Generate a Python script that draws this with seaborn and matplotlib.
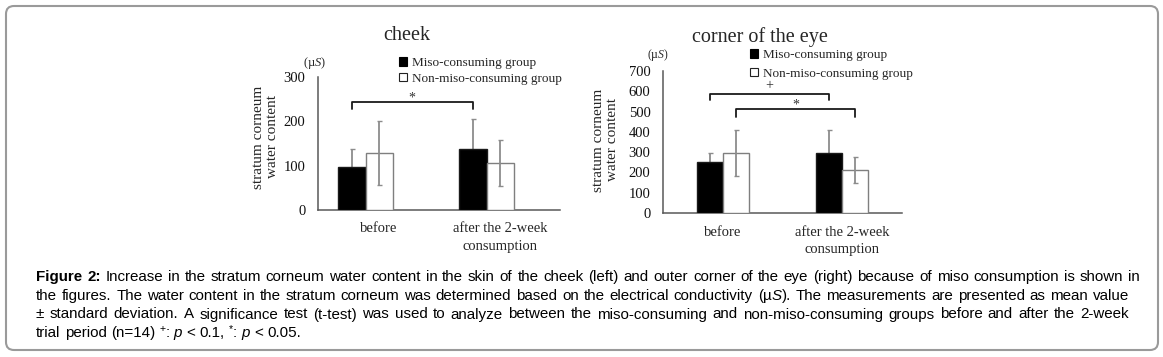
import numpy as np
import pandas as pd
import matplotlib
matplotlib.use("Agg")
import matplotlib.pyplot as plt
import seaborn as sns
from matplotlib.patches import Patch, FancyBboxPatch
from matplotlib.transforms import IdentityTransform

# ---------------- data ----------------
categories = ["before", "after the 2-week\nconsumption"]
groups = ["Miso-consuming group", "Non-miso-consuming group"]

cheek_miso = [98, 137]
cheek_miso_sd = [39, 68]
cheek_non = [128, 106]
cheek_non_sd = [72, 51]

eye_miso = [250, 294]
eye_miso_sd = [47, 116]
eye_non = [296, 212]
eye_non_sd = [115, 62]

cheek_yticks = [0, 100, 200, 300]
eye_yticks = [0, 100, 200, 300, 400, 500, 600, 700]

# ---------------- style ----------------
sns.set_theme(style="white")
plt.rcParams["font.family"] = ["Liberation Serif", "DejaVu Serif"]
plt.rcParams["mathtext.fontset"] = "custom"
plt.rcParams["mathtext.rm"] = "Liberation Serif"
plt.rcParams["mathtext.it"] = "Liberation Serif:italic"

W, H = 1163, 357
fig = plt.figure(figsize=(W / 100, H / 100), dpi=100)
fig.patch.set_facecolor("white")

AX_COL = "#595959"
ERR_COL = "#8c8c8c"


def px(x, y):
    return x / W, 1 - y / H


def make_df(miso, non):
    rows = []
    for i, c in enumerate(categories):
        rows.append({"time": c, "group": groups[0], "value": miso[i]})
        rows.append({"time": c, "group": groups[1], "value": non[i]})
    return pd.DataFrame(rows)


def draw_panel(ax, miso, miso_sd, non, non_sd, ylim, yticks, minor_step,
               xlim, label_pos, bound_ticks, width):
    df = make_df(miso, non)
    sns.barplot(data=df, x="time", y="value", hue="group", order=categories,
                hue_order=groups, palette={groups[0]: "black", groups[1]: "white"},
                width=width, gap=0, errorbar=None, legend=False, ax=ax,
                zorder=3, linewidth=1.0)
    sds = {0: miso_sd, 1: non_sd}
    centers = {}
    for p in ax.patches:
        if p.get_width() <= 0:
            continue
        fc = p.get_facecolor()
        g = 0 if fc[0] < 0.5 else 1
        xc = p.get_x() + p.get_width() / 2
        ci = int(round(xc))
        h = p.get_height()
        centers[(g, ci)] = (xc, h)
        if g == 0:
            p.set_edgecolor("#1a1a1a")
        else:
            p.set_edgecolor("#7f7f7f")
        ax.errorbar([xc], [h], yerr=[sds[g][ci]], fmt="none", ecolor=ERR_COL,
                    elinewidth=1.3, capsize=1.8, capthick=1.0,
                    zorder=2 if g == 0 else 4)
    ax.set_xlim(*xlim)
    ax.set_ylim(*ylim)
    ax.set_xlabel("")
    ax.set_ylabel("")
    ax.set_xticks(bound_ticks)
    ax.set_xticklabels([""] * len(bound_ticks))
    ax.set_xticks(label_pos, minor=True)
    ax.set_xticklabels(categories, minor=True, fontsize=10.5, linespacing=1.45)
    ax.tick_params(axis="x", which="major", direction="out", length=4,
                   color=AX_COL, width=1)
    ax.tick_params(axis="x", which="minor", length=0, pad=9)
    ax.set_yticks(yticks)
    ax.set_yticklabels([str(v) for v in yticks], fontsize=10.5)
    if minor_step:
        ax.set_yticks(np.arange(ylim[0], ylim[1] + 1, minor_step), minor=True)
    ax.tick_params(axis="y", which="both", direction="out", length=4,
                   color=AX_COL, width=1, pad=5)
    ax.tick_params(axis="y", which="major", labelcolor="#111111")
    sns.despine(ax=ax)
    for s in ["left", "bottom"]:
        ax.spines[s].set_color(AX_COL)
        ax.spines[s].set_linewidth(1.1)
    ax.set_facecolor("none")
    return centers


def bracket(ax, x1, x2, y, y0, text, ty, fs=10):
    ax.plot([x1, x1, x2, x2], [y0, y, y, y0], color="#1a1a1a", lw=1.3,
            zorder=5, clip_on=False)
    ax.text((x1 + x2) / 2, ty, text, ha="center", va="bottom", fontsize=fs,
            color="#333333")


# ---------------- cheek panel ----------------
ax1 = fig.add_axes([318 / W, 1 - 210 / H, 242 / W, 133 / H])
c1 = draw_panel(ax1, cheek_miso, cheek_miso_sd, cheek_non, cheek_non_sd,
                (0, 300), cheek_yticks, 20, (-0.393, 1.607), [0.11, 1.11],
                [-0.393, 0.615, 1.607], 0.455)
bracket(ax1, c1[(0, 0)][0], c1[(0, 1)][0], 243, 228, "*", 237)

# ---------------- eye panel ----------------
ax2 = fig.add_axes([663 / W, 1 - 213 / H, 239 / W, 142 / H])
c2 = draw_panel(ax2, eye_miso, eye_miso_sd, eye_non, eye_non_sd,
                (0, 700), eye_yticks, None, (-0.5, 1.5), [0, 1],
                [-0.5, 0.5, 1.5], 0.435)
bracket(ax2, c2[(0, 0)][0], c2[(0, 1)][0], 587, 557, "+", 595)
bracket(ax2, c2[(1, 0)][0], c2[(1, 1)][0], 512, 473, "*", 500)

# ---------------- titles, labels, legends ----------------
fig.text(*px(407, 35), "cheek", ha="center", va="center", fontsize=14.5)
fig.text(*px(760, 37), "corner of the eye", ha="center", va="center", fontsize=14.5)

ylab = "stratum corneum\nwater content"
fig.text(*px(266, 137), ylab, rotation=90, ha="center", va="center",
         fontsize=11, linespacing=1.1)
fig.text(*px(606, 140), ylab, rotation=90, ha="center", va="center",
         fontsize=11, linespacing=1.1)

fig.text(*px(315, 63), r"(µ$\it{S}$)", ha="center", va="center", fontsize=9)
fig.text(*px(658, 55), r"(µ$\it{S}$)", ha="center", va="center", fontsize=8.5)

handles = [Patch(facecolor="black", edgecolor="black", lw=0.8),
           Patch(facecolor="white", edgecolor="#222222", lw=0.8)]
fig.legend(handles=handles, labels=groups, loc="upper left",
           bbox_to_anchor=px(399, 57), frameon=False, fontsize=9.5,
           handlelength=0.6, handleheight=0.6, handletextpad=0.35,
           labelspacing=0.3, borderpad=0, borderaxespad=0)
fig.legend(handles=handles, labels=groups, loc="upper left",
           bbox_to_anchor=px(750, 49), frameon=False, fontsize=9.5,
           handlelength=0.6, handleheight=0.6, handletextpad=0.35,
           labelspacing=0.5, borderpad=0, borderaxespad=0)

# ---------------- caption (justified) ----------------
renderer = fig.canvas.get_renderer()
SANS = ["Liberation Sans", "DejaVu Sans"]
CAP = {"fs": 10.0}


def style_kw(st):
    fs = CAP["fs"]
    kw = dict(family=SANS, fontsize=fs, color="black")
    dy = 0
    if st == "b":
        kw["fontweight"] = "bold"
    elif st == "i":
        kw["fontstyle"] = "italic"
    elif st == "sup":
        kw["fontsize"] = fs * 0.7
        dy = 5
    return kw, dy


def measure(s, st):
    kw, _ = style_kw(st)
    t = fig.text(0, 0, s, **kw)
    w = t.get_window_extent(renderer).width
    t.remove()
    return w


def to_words(segs):
    words, cur = [], []
    for text, st in segs:
        parts = text.split(" ")
        for k, part in enumerate(parts):
            if k > 0:
                if cur:
                    words.append(cur)
                cur = []
            if part:
                cur.append((part, st))
    if cur:
        words.append(cur)
    return words


def natural_width(segs):
    words = to_words(segs)
    space = measure("a a", "n") - measure("aa", "n")
    return sum(sum(measure(s, st) for s, st in w) for w in words) + space * (len(words) - 1)


def draw_line(segs, y, x0, x1, justify=True):
    words = to_words(segs)
    widths = [sum(measure(s, st) for s, st in w) for w in words]
    space = measure("a a", "n") - measure("aa", "n")
    if justify and len(words) > 1:
        gap = (x1 - x0 - sum(widths)) / (len(words) - 1)
    else:
        gap = space
    x = x0
    for w, ww in zip(words, widths):
        xx = x
        for s, st in w:
            kw, dy = style_kw(st)
            fig.text(xx / W, 1 - (y - dy) / H, s, ha="left", va="baseline", **kw)
            xx += measure(s, st)
        x += ww + gap


cap_lines = [
    [("Figure 2:", "b"), (" Increase in the stratum corneum water content in the skin of the cheek (left) and outer corner of the eye (right) because of miso consumption is shown in", "n")],
    [("the figures. The water content in the stratum corneum was determined based on the electrical conductivity (µ", "n"), ("S", "i"), ("). The measurements are presented as mean value", "n")],
    [("± standard deviation. A significance test (t-test) was used to analyze between the miso-consuming and non-miso-consuming groups before and after the 2-week", "n")],
    [("trial period (n=14) ", "n"), ("+", "sup"), (": ", "n"), ("p", "i"), (" < 0.1, ", "n"), ("*", "sup"), (": ", "n"), ("p", "i"), (" < 0.05.", "n")],
]
rights = [1140, 1129, 1129]
scale = min((rights[i] - 36) / natural_width(cap_lines[i]) for i in range(3))
CAP["fs"] = 10.0 * scale * 0.99

baselines = [281, 300, 318.5, 337]
for i, (segs, yb) in enumerate(zip(cap_lines, baselines)):
    draw_line(segs, yb, 36, 1129 if i > 0 else 1140, justify=(i < 3))

# ---------------- frame ----------------
frame = FancyBboxPatch((6, H - 350), 1152, 344,
                       boxstyle="round,pad=0,rounding_size=8",
                       transform=IdentityTransform(), fill=False,
                       ec="#9a9a9a", lw=1.5)
fig.patches.append(frame)

fig.savefig("out.png", dpi=100, facecolor="white")
